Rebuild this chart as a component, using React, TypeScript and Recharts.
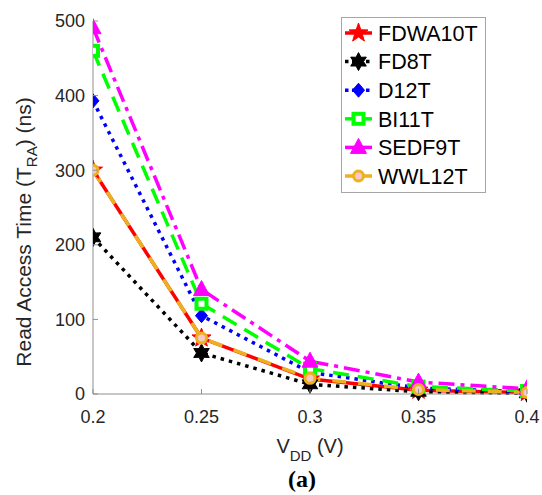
import { LineChart, Line, XAxis, YAxis } from "recharts";

const vdd = [0.2, 0.25, 0.3, 0.35, 0.4];
const fdwa10t = [300, 75, 20, 5, 2];
const fd8t = [210, 55, 13, 3, 1];
const d12t = [393, 105, 29, 8, 3];
const bi11t = [460, 121, 34, 10, 4];
const sedf9t = [491, 140, 44, 16, 7];
const wwl12t = [300, 75, 21, 6, 2];

const xTicks = [0.2, 0.25, 0.3, 0.35, 0.4];
const yTicks = [0, 100, 200, 300, 400, 500];

const data = vdd.map((v, i) => ({
  vdd: v,
  FDWA10T: fdwa10t[i],
  FD8T: fd8t[i],
  D12T: d12t[i],
  BI11T: bi11t[i],
  SEDF9T: sedf9t[i],
  WWL12T: wwl12t[i],
}));

const FONT = "'Liberation Sans', Arial, Helvetica, sans-serif";
const AXIS = "#8f8f8f";
const TEXT = "#262626";

type Shape = "star" | "hexagram" | "diamond" | "square" | "triangle" | "circle";

function starPath(cx: number, cy: number, n: number, ro: number, ri: number) {
  let d = "";
  for (let k = 0; k < n * 2; k++) {
    const r = k % 2 === 0 ? ro : ri;
    const a = -Math.PI / 2 + (k * Math.PI) / n;
    d += (k === 0 ? "M" : "L") + (cx + r * Math.cos(a)).toFixed(2) + "," + (cy + r * Math.sin(a)).toFixed(2);
  }
  return d + "Z";
}

function Marker({ shape, cx, cy, color, s = 1 }: { shape: Shape; cx: number; cy: number; color: string; s?: number }) {
  switch (shape) {
    case "star":
      return <path d={starPath(cx, cy, 5, 10 * s, 4 * s)} fill={color} stroke={color} strokeWidth={1} />;
    case "hexagram":
      return <path d={starPath(cx, cy, 6, 9 * s, 5 * s)} fill={color} stroke={color} strokeWidth={1} />;
    case "diamond":
      return <path d={`M${cx},${cy - 7 * s}L${cx + 6 * s},${cy}L${cx},${cy + 7 * s}L${cx - 6 * s},${cy}Z`} fill={color} stroke={color} />;
    case "square":
      return <rect x={cx - 5 * s} y={cy - 5 * s} width={10 * s} height={10 * s} fill="#fff" stroke={color} strokeWidth={4} />;
    case "triangle":
      return <path d={`M${cx},${cy - 9 * s}L${cx + 8 * s},${cy + 6 * s}L${cx - 8 * s},${cy + 6 * s}Z`} fill={color} stroke={color} />;
    case "circle":
      return <circle cx={cx} cy={cy} r={5 * s} fill="#f6c8c8" stroke={color} strokeWidth={3} />;
  }
}

const series: { key: string; color: string; dash?: string; legendDash?: string; shape: Shape }[] = [
  { key: "FDWA10T", color: "#ff0000", shape: "star" },
  { key: "FD8T", color: "#000000", dash: "3.5 5", legendDash: "3.5 3.5", shape: "hexagram" },
  { key: "D12T", color: "#0000ff", dash: "3.5 5", legendDash: "3.5 3.5", shape: "diamond" },
  { key: "BI11T", color: "#00ff00", dash: "16 9", shape: "square" },
  { key: "SEDF9T", color: "#ff00ff", dash: "16 6 4 6", shape: "triangle" },
  { key: "WWL12T", color: "#edb120", dash: "14 12", shape: "circle" },
];

function YTick({ x, y, payload }: any) {
  return (
    <g>
      <line x1={x + 8} x2={x + 13} y1={y} y2={y} stroke={AXIS} />
      <text x={x} y={y} dy="0.36em" textAnchor="end" fontSize={18} fontFamily={FONT} fill={TEXT}>
        {payload.value}
      </text>
    </g>
  );
}

function XTick({ x, y, payload }: any) {
  return (
    <g>
      <line x1={x} x2={x} y1={y - 16} y2={y - 21} stroke={AXIS} />
      <text x={x} y={y} dy="0.72em" textAnchor="middle" fontSize={18} fontFamily={FONT} fill={TEXT}>
        {payload.value}
      </text>
    </g>
  );
}

function LegendBox() {
  return (
    <svg width={145} height={176} style={{ display: "block" }}>
      <rect x={0.5} y={0.5} width={144} height={175} fill="#fff" stroke="#a6a6a6" />
      {series.map((s, i) => {
        const y = 16 + i * 28.6;
        return (
          <g key={s.key}>
            <line x1={4} x2={31} y1={y} y2={y} stroke={s.color} strokeWidth={3.5} strokeDasharray={s.legendDash} />
            <Marker shape={s.shape} cx={17.5} cy={y} color={s.color} />
            <text x={37} y={y} dy="0.36em" fontSize={21.5} fontFamily={FONT} fill="#000">
              {s.key}
            </text>
          </g>
        );
      })}
    </svg>
  );
}

export default function App() {
  return (
    <div style={{ position: "absolute", left: 0, top: 0, width: 542, height: 495, background: "#fff" }}>
      <LineChart width={542} height={495} data={data} margin={{ top: 21, right: 15, bottom: 71, left: 0 }}>
        <XAxis
          dataKey="vdd"
          type="number"
          domain={[0.2, 0.4]}
          ticks={xTicks}
          allowDataOverflow
          height={30}
          tickLine={false}
          tickSize={0}
          tickMargin={16}
          stroke={AXIS}
          tick={<XTick />}
          interval={0}
        />
        <YAxis
          type="number"
          domain={[0, 500]}
          ticks={yTicks}
          width={93}
          tickLine={false}
          tickSize={0}
          tickMargin={8}
          stroke={AXIS}
          tick={<YTick />}
          interval={0}
        />
        {series.map((s) => (
          <Line
            key={s.key}
            dataKey={s.key}
            type="linear"
            stroke={s.color}
            strokeWidth={3.5}
            strokeDasharray={s.dash}
            isAnimationActive={false}
            dot={(p: any) => <Marker key={`${s.key}-${p.index}`} shape={s.shape} cx={p.cx} cy={p.cy} color={s.color} />}
            activeDot={false}
          />
        ))}
        <text x={31} y={232} transform="rotate(-90 31 232)" textAnchor="middle" fontSize={21} fontFamily={FONT} fill={TEXT}>
          Read Access Time (T<tspan dy={6} fontSize={15}>RA</tspan>
          <tspan dy={-6}>) (ns)</tspan>
        </text>
        <text x={310} y={453} textAnchor="middle" fontSize={20} fontFamily={FONT} fill={TEXT}>
          V<tspan dy={8} fontSize={15}>DD</tspan>
          <tspan dy={-8}> (V)</tspan>
        </text>
        <text x={302} y={487} textAnchor="middle" fontSize={24} fontWeight="bold" fontFamily="'Liberation Serif', 'Times New Roman', serif" fill="#000">
          (a)
        </text>
      </LineChart>
      <div style={{ position: "absolute", left: 341, top: 17 }}>
        <LegendBox />
      </div>
    </div>
  );
}
